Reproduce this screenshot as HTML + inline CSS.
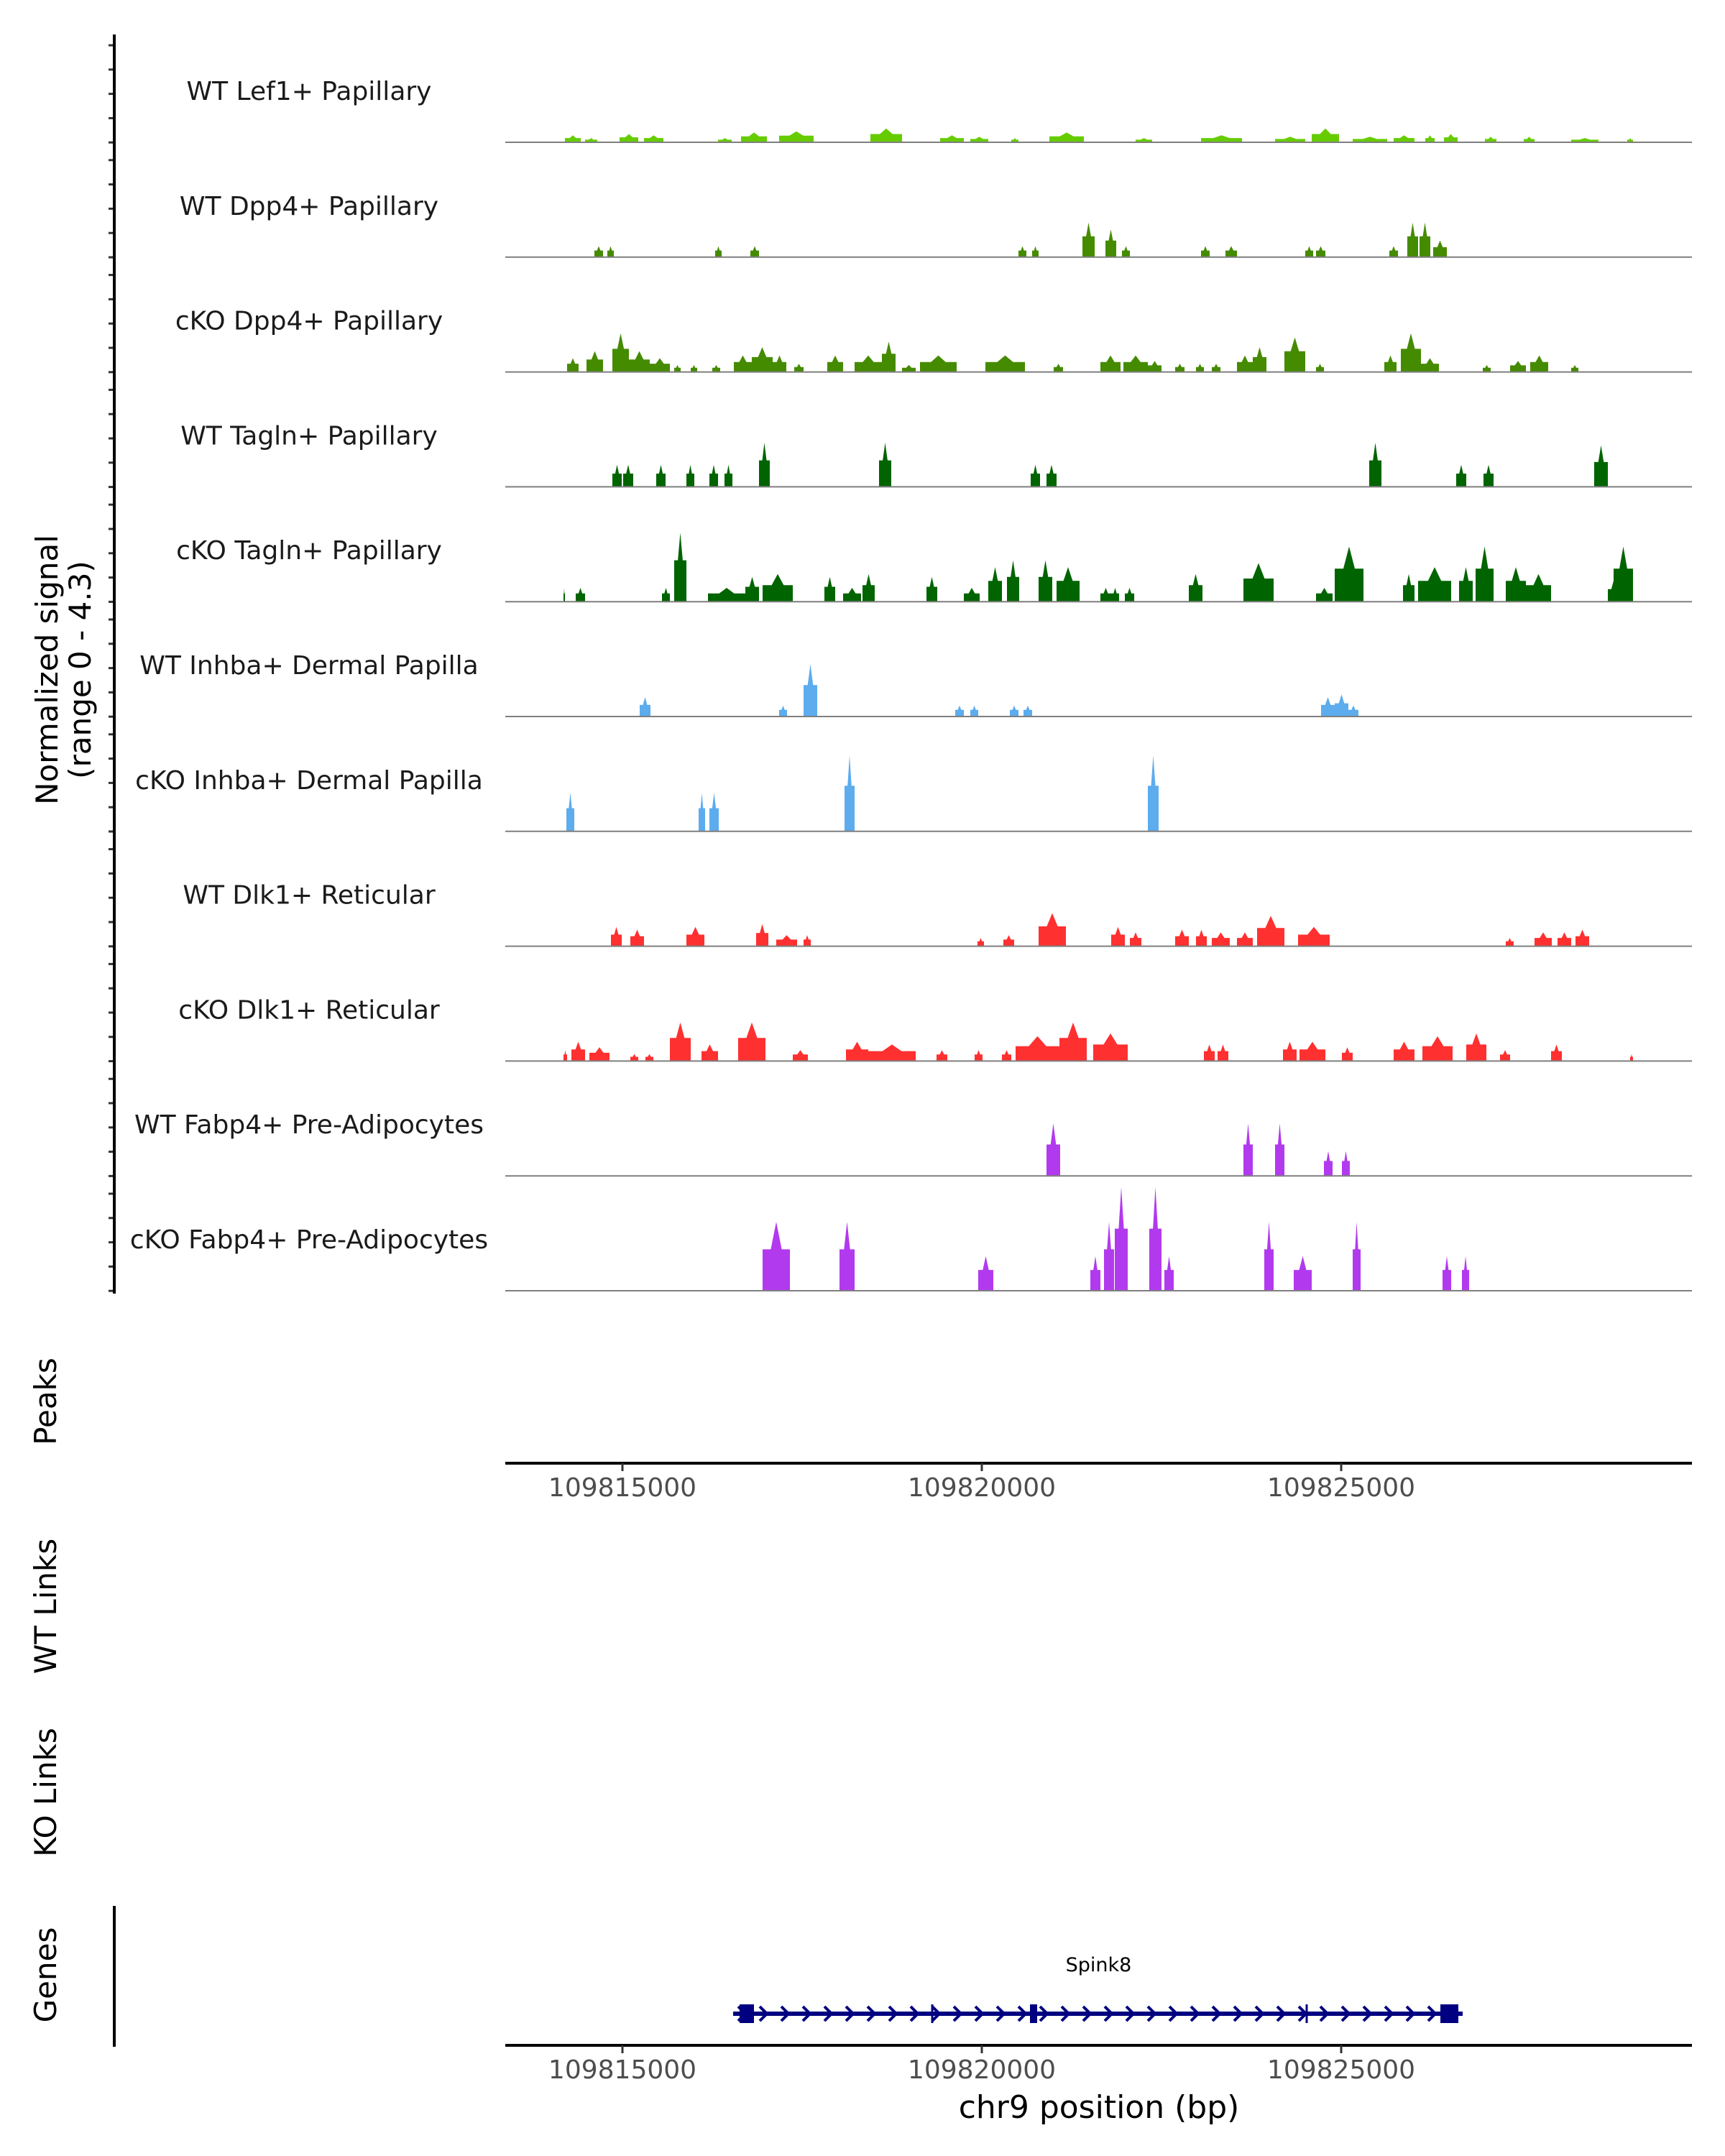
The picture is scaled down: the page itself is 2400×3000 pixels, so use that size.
<!DOCTYPE html>
<html><head><meta charset="utf-8"><style>
body{margin:0;background:#fff}
svg{display:block;font-family:"DejaVu Sans","Liberation Sans",sans-serif}
</style></head><body>
<svg id="chart" width="2400" height="3000" viewBox="0 0 2400 3000" xmlns="http://www.w3.org/2000/svg">
<g id="tracks"></g>
<g id="axes"></g>
<g id="gene"></g>
</svg>
<script>
// genomic region: kb offsets relative to dataOriginBp
const dataOriginBp = 109815090;
const regionStart = -1.72, regionEnd = 14.79;
const tickPositions = [109815000, 109820000, 109825000];
const tickLabels = ["109815000", "109820000", "109825000"];
const signalMax = 4.3;
const trackNames = ["WT Lef1+ Papillary","WT Dpp4+ Papillary","cKO Dpp4+ Papillary","WT Tagln+ Papillary","cKO Tagln+ Papillary","WT Inhba+ Dermal Papilla","cKO Inhba+ Dermal Papilla","WT Dlk1+ Reticular","cKO Dlk1+ Reticular","WT Fabp4+ Pre-Adipocytes","cKO Fabp4+ Pre-Adipocytes"];
const trackColors = ["#66cc00","#458b00","#458b00","#006400","#006400","#5cacee","#5cacee","#ff3030","#ff3030","#b23aee","#b23aee"];
// peaks: [start kb, end kb, signal]
const lef1WT = [[-0.89,-0.67,0.28],[-0.61,-0.44,0.17],[-0.13,0.13,0.33],[0.21,0.48,0.28],[1.24,1.43,0.17],[1.56,1.92,0.39],[2.09,2.57,0.44],[3.36,3.80,0.55],[4.33,4.66,0.28],[4.75,5.00,0.22],[5.32,5.42,0.17],[5.85,6.33,0.39],[7.05,7.28,0.17],[7.96,8.53,0.28],[8.99,9.41,0.22],[9.50,9.88,0.55],[10.07,10.55,0.22],[10.64,10.93,0.28],[11.08,11.21,0.28],[11.34,11.53,0.33],[11.91,12.07,0.22],[12.45,12.60,0.22],[13.11,13.49,0.17],[13.89,13.97,0.17]];
const dpp4WT = [[-0.48,-0.36,0.44],[-0.30,-0.21,0.44],[1.20,1.29,0.44],[1.69,1.81,0.44],[5.42,5.53,0.44],[5.61,5.70,0.44],[6.31,6.48,1.38],[6.63,6.78,1.10],[6.86,6.97,0.44],[7.96,8.08,0.44],[8.30,8.46,0.44],[9.41,9.52,0.44],[9.56,9.69,0.44],[10.58,10.70,0.44],[10.83,10.98,1.38],[11.00,11.15,1.38],[11.19,11.38,0.66]];
const dpp4KO = [[-0.86,-0.70,0.55],[-0.59,-0.36,0.83],[-0.23,0,1.54],[0,0.29,0.83],[0.29,0.57,0.55],[0.63,0.72,0.28],[0.86,0.95,0.28],[1.16,1.27,0.28],[1.46,1.71,0.66],[1.71,2.00,0.99],[2.00,2.19,0.66],[2.30,2.43,0.33],[2.76,2.98,0.66],[3.14,3.52,0.66],[3.52,3.71,1.21],[3.80,3.99,0.28],[4.05,4.56,0.66],[4.96,5.51,0.66],[5.91,6.04,0.33],[6.56,6.84,0.66],[6.88,7.22,0.66],[7.22,7.41,0.44],[7.60,7.73,0.33],[7.89,8.00,0.33],[8.11,8.23,0.33],[8.46,8.68,0.66],[8.68,8.87,0.99],[9.12,9.41,1.38],[9.56,9.67,0.33],[10.51,10.68,0.66],[10.74,11.02,1.54],[11.02,11.27,0.55],[11.88,11.99,0.28],[12.26,12.48,0.44],[12.54,12.79,0.66],[13.11,13.21,0.28]];
const taglnWT = [[-0.23,-0.10,0.88],[-0.08,0.06,0.88],[0.38,0.51,0.88],[0.80,0.91,0.88],[1.12,1.24,0.88],[1.33,1.44,0.88],[1.81,1.96,1.76],[3.48,3.65,1.76],[5.59,5.72,0.88],[5.81,5.95,0.88],[10.30,10.47,1.76],[11.51,11.65,0.88],[11.89,12.03,0.88],[13.43,13.62,1.65]];
const taglnKO = [[-0.91,-0.89,0.55],[-0.74,-0.61,0.55],[0.46,0.57,0.55],[0.63,0.80,2.75],[1.10,1.62,0.55],[1.62,1.81,0.99],[1.86,2.28,1.10],[2.72,2.87,0.99],[2.98,3.23,0.55],[3.25,3.42,1.10],[4.14,4.29,0.99],[4.66,4.88,0.55],[5.00,5.19,1.38],[5.26,5.43,1.65],[5.70,5.89,1.65],[5.95,6.27,1.38],[6.56,6.71,0.55],[6.71,6.82,0.55],[6.90,7.03,0.55],[7.79,7.98,1.10],[8.55,8.97,1.54],[9.56,9.79,0.55],[9.82,10.22,2.20],[10.77,10.93,1.10],[10.98,11.44,1.38],[11.55,11.74,1.38],[11.78,12.03,2.20],[12.20,12.48,1.38],[12.48,12.83,1.10],[13.62,13.78,0.83],[13.70,13.97,2.20]];
const inhbaWT = [[0.15,0.30,0.77],[2.09,2.20,0.44],[2.43,2.62,2.09],[4.54,4.66,0.44],[4.75,4.86,0.44],[5.30,5.42,0.44],[5.49,5.61,0.44],[9.63,9.82,0.77],[9.82,10.01,0.88],[10.01,10.15,0.44]];
const inhbaKO = [[-0.87,-0.76,1.54],[0.97,1.06,1.54],[1.12,1.25,1.54],[3.00,3.14,3.03],[7.22,7.37,3.03]];
const dlk1WT = [[-0.25,-0.10,0.77],[0.02,0.21,0.66],[0.80,1.05,0.77],[1.77,1.94,0.88],[2.05,2.34,0.44],[2.43,2.53,0.44],[4.85,4.94,0.33],[5.21,5.36,0.44],[5.70,6.08,1.32],[6.71,6.90,0.77],[6.97,7.13,0.55],[7.60,7.79,0.66],[7.89,8.04,0.66],[8.11,8.36,0.55],[8.46,8.68,0.55],[8.74,9.12,1.21],[9.31,9.75,0.77],[12.20,12.31,0.33],[12.60,12.84,0.55],[12.92,13.11,0.55],[13.17,13.36,0.66]];
const dlk1KO = [[-0.91,-0.86,0.44],[-0.80,-0.61,0.77],[-0.55,-0.27,0.55],[0.02,0.13,0.28],[0.23,0.34,0.28],[0.57,0.86,1.54],[1.01,1.24,0.66],[1.52,1.90,1.54],[2.28,2.49,0.44],[3.02,3.33,0.77],[3.33,3.99,0.66],[4.28,4.43,0.44],[4.81,4.92,0.44],[5.19,5.32,0.44],[5.38,5.99,0.99],[5.99,6.37,1.54],[6.46,6.94,1.10],[8.00,8.15,0.66],[8.19,8.34,0.66],[9.10,9.29,0.77],[9.33,9.69,0.77],[9.92,10.07,0.55],[10.64,10.93,0.77],[11.04,11.46,0.99],[11.65,11.93,1.10],[12.12,12.26,0.44],[12.83,12.98,0.66],[13.93,13.97,0.28]];
const fabp4WT = [[5.81,6.00,2.09],[8.55,8.68,2.09],[8.99,9.12,2.09],[9.67,9.79,0.99],[9.92,10.03,0.99]];
const fabp4KO = [[1.86,2.24,2.75],[2.93,3.14,2.75],[4.86,5.07,1.38],[6.42,6.56,1.38],[6.61,6.75,2.75],[6.76,6.94,4.13],[7.24,7.41,4.13],[7.45,7.58,1.38],[8.84,8.97,2.75],[9.25,9.50,1.38],[10.07,10.18,2.75],[11.32,11.44,1.38],[11.59,11.69,1.38]];
const trackData = [lef1WT,dpp4WT,dpp4KO,taglnWT,taglnKO,inhbaWT,inhbaKO,dlk1WT,dlk1KO,fabp4WT,fabp4KO];
// gene model (kb offsets)
const geneStart = 1.53, geneEnd = 11.54;
const exonStarts = [1.54, 5.58, 11.29];
const exonEnds = [1.74, 5.68, 11.54];
const intronMarks = [4.22, 9.43];

const NS = "http://www.w3.org/2000/svg";
const plotL = 703, plotR = 2354;
function xs(kb){ return plotL + (kb - regionStart) / (regionEnd - regionStart) * (plotR - plotL); }
function xbp(bp){ return xs((bp - dataOriginBp) / 1000); }
const firstBase = 198, trackStep = 159.8, trackH = 150;
function ys(v){ return v / signalMax * trackH; }
function mk(tag, attrs, parent){ const e = document.createElementNS(NS, tag); for (const k in attrs) e.setAttribute(k, attrs[k]); parent.appendChild(e); return e; }

const tracks = document.getElementById('tracks');
const axes = document.getElementById('axes');
const geneG = document.getElementById('gene');

trackNames.forEach((name, i) => {
  const base = firstBase + i * trackStep;
  const g = mk('g', {}, tracks);
  
  
  const lbl = mk('text', {x: 430, y: base - 59, 'text-anchor': 'middle', 'font-size': 36, fill: '#1a1a1a'}, g);
  lbl.textContent = name;
  
  
  trackData[i].forEach(p => {
    const s = xs(p[0]), e = xs(p[1]), h = ys(p[2]);
    const m = (s + e) / 2;
    const pts = [[s, base], [s, base - h * 0.6], [s + (e - s) * 0.3, base - h * 0.6], [m, base - h], [e - (e - s) * 0.3, base - h * 0.6], [e, base - h * 0.6], [e, base]];
    const poly = mk('polygon', {points: pts.map(q => q[0].toFixed(1) + ',' + q[1].toFixed(1)).join(' '), fill: trackColors[i]}, g);
    
    
  });
  const bl = mk('line', {x1: plotL, x2: plotR, y1: base, y2: base, stroke: '#7f7f7f', 'stroke-width': 2}, g);
  
  
  for (let t = 0; t < 5; t++) {
    const ty = base - 135 + t * 33.8;
    const tk = mk('line', {x1: 151, x2: 159, y1: ty, y2: ty, stroke: '#333', 'stroke-width': 3}, g);
    
    
  }
});

// left signal axis
const yl = mk('line', {x1: 159, x2: 159, y1: 48, y2: 1800, stroke: '#000', 'stroke-width': 4}, axes);


function vtext(txt, x, y, name, size){
  const t = mk('text', {x: x, y: y, 'text-anchor': 'middle', 'font-size': size, fill: '#000', transform: 'rotate(-90 ' + x + ' ' + y + ')'}, axes);
  t.textContent = txt;
  
  
}
vtext('Normalized signal', 80, 932, 'y-axis-title', 42);
vtext('(range 0 - 4.3)', 126, 932, 'y-axis-subtitle', 42);
vtext('Peaks', 78, 1950, 'peaks-label', 42);
vtext('WT Links', 78, 2235, 'wt-links-label', 42);
vtext('KO Links', 78, 2494, 'ko-links-label', 42);
vtext('Genes', 78, 2748, 'genes-label', 42);

function xAxis(y, name){
  const g = mk('g', {}, axes);
  
  
  mk('line', {x1: plotL, x2: plotR, y1: y, y2: y, stroke: '#000', 'stroke-width': 4}, g);
  tickPositions.forEach((bp, i) => {
    const x = xbp(bp);
    mk('line', {x1: x, x2: x, y1: y, y2: y + 11, stroke: '#333', 'stroke-width': 3}, g);
    const t = mk('text', {x: x, y: y + 46, 'text-anchor': 'middle', 'font-size': 36, fill: '#4d4d4d'}, g);
    t.textContent = tickLabels[i];
    
    
  });
}
xAxis(2036, 'peaks-x-axis');
xAxis(2846, 'genes-x-axis');
const xt = mk('text', {x: 1529, y: 2947, 'text-anchor': 'middle', 'font-size': 44, fill: '#000'}, axes);
xt.textContent = 'chr9 position (bp)';


const gl = mk('line', {x1: 159, x2: 159, y1: 2652, y2: 2848, stroke: '#000', 'stroke-width': 4}, axes);



// gene
const gy = 2802;
const gname = mk('text', {x: (xs(geneStart) + xs(geneEnd)) / 2, y: 2743, 'text-anchor': 'middle', 'font-size': 27, fill: '#000'}, geneG);
gname.textContent = 'Spink8';


mk('line', {x1: xs(geneStart) - 8, x2: xs(geneEnd) + 6, y1: gy, y2: gy, stroke: '#000080', 'stroke-width': 6}, geneG);
for (let x = xs(geneStart) + 4; x < xs(geneEnd) - 8; x += 30) {
  mk('polyline', {points: (x - 5) + ',' + (gy - 10) + ' ' + (x + 5) + ',' + gy + ' ' + (x - 5) + ',' + (gy + 10), fill: 'none', stroke: '#000080', 'stroke-width': 4}, geneG);
}
exonStarts.forEach((s, i) => {
  const r = mk('rect', {x: xs(s), y: gy - 13, width: Math.max(4, xs(exonEnds[i]) - xs(s)), height: 26, fill: '#000080'}, geneG);
  
  
});
intronMarks.forEach(k => {
  mk('line', {x1: xs(k), x2: xs(k), y1: gy - 13, y2: gy + 13, stroke: '#000080', 'stroke-width': 3}, geneG);
});
</script>
</body></html>
